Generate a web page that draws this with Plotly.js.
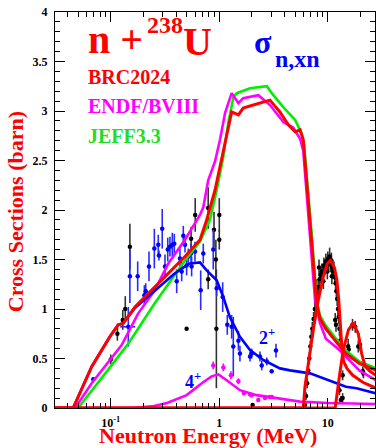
<!DOCTYPE html>
<html>
<head>
<meta charset="utf-8">
<script src="https://cdn.plot.ly/plotly-3.0.1.min.js"></script>
<style>
  html, body { margin: 0; padding: 0; background: #fff; }
  #plot { width: 376px; height: 448px; }
</style>
</head>
<body>
<div id="plot"></div>
<script>
// n + 238U neutron-induced cross sections (barn) versus neutron energy (MeV)

// Total inelastic (n,n') evaluations
const brcE   = [0.03, 0.045, 0.0667, 0.098, 0.117, 0.130, 0.167, 0.255, 0.483, 0.665, 0.765, 0.913, 1.015, 1.17, 1.30, 1.50, 1.66, 2.06, 2.93, 3.62, 4.33, 5.0, 5.55, 5.94, 7.10, 7.9, 8.5, 9.6, 11.9, 14.7, 19.5, 27.8];
const brcS   = [0, 0, 0.417, 0.72, 0.84, 0.855, 1.02, 1.225, 1.53, 1.70, 1.90, 2.20, 2.44, 2.74, 2.99, 2.96, 3.03, 3.06, 3.11, 2.99, 2.86, 2.79, 2.81, 2.71, 1.70, 1.05, 0.90, 0.80, 0.67, 0.55, 0.45, 0.38];

const endfE  = [0.03, 0.047, 0.0667, 0.126, 0.179, 0.255, 0.339, 0.483, 0.664, 0.713, 0.79, 0.913, 1.015, 1.13, 1.30, 1.50, 1.66, 2.29, 2.93, 3.89, 4.81, 5.55, 5.94, 7.10, 7.63, 8.46, 9.6, 12.8, 19.5, 27.8];
const endfS  = [0, 0, 0.25, 0.636, 0.956, 1.19, 1.46, 1.70, 1.95, 2.03, 2.30, 2.49, 2.71, 2.98, 3.18, 3.08, 3.13, 3.16, 3.06, 2.89, 2.83, 2.72, 2.60, 1.55, 1.09, 0.86, 0.70, 0.586, 0.38, 0.28];

const jeffE  = [0.03, 0.05, 0.089, 0.145, 0.255, 0.483, 0.664, 0.82, 0.946, 1.09, 1.21, 1.35, 1.45, 1.92, 2.74, 3.15, 3.89, 5.0, 5.74, 6.05, 7.15, 7.9, 8.5, 9.6, 11.9, 14.7, 19.5, 27.8];
const jeffS  = [0, 0, 0.35, 0.65, 1.06, 1.49, 1.68, 1.90, 2.20, 2.54, 2.88, 3.14, 3.18, 3.23, 3.25, 3.16, 3.04, 2.91, 2.77, 2.65, 1.72, 1.08, 0.93, 0.83, 0.70, 0.58, 0.47, 0.40];

// Level excitation: 2+ and 4+ states
const lev2E  = [0.03, 0.045, 0.0667, 0.098, 0.117, 0.130, 0.167, 0.238, 0.316, 0.39, 0.483, 0.537, 0.664, 0.765, 0.946, 1.09, 1.25, 1.55, 1.92, 2.54, 3.62, 4.49, 6.85, 10.4, 14.7, 18.4, 27.8];
const lev2S  = [0, 0, 0.417, 0.72, 0.84, 0.855, 1.01, 1.16, 1.28, 1.36, 1.43, 1.46, 1.47, 1.39, 1.29, 1.12, 0.92, 0.72, 0.586, 0.485, 0.40, 0.38, 0.35, 0.28, 0.215, 0.20, 0.148];

const lev4E  = [0.03, 0.16, 0.25, 0.33, 0.50, 0.60, 0.71, 0.85, 0.98, 1.17, 1.55, 2.21, 3.62, 5.55, 10.0, 27.8];
const lev4S  = [0, 0, 0.02, 0.05, 0.13, 0.20, 0.26, 0.32, 0.34, 0.28, 0.18, 0.13, 0.098, 0.064, 0.05, 0.04];

// (n,2n) and (n,3n)
const n2nE   = [0.03, 5.94, 6.16, 6.61, 7.35, 8.17, 9.09, 9.9, 10.6, 11.5, 12.1, 12.6, 13.0, 13.5, 14.0, 15.0, 17.0, 21.0, 27.8];
const n2nS   = [0, 0, 0.215, 0.45, 0.79, 1.09, 1.33, 1.46, 1.49, 1.42, 1.30, 1.10, 0.85, 0.60, 0.47, 0.40, 0.33, 0.26, 0.20];

const n3nE   = [0.03, 11.7, 12.9, 13.9, 15.5, 17.2, 19.1, 20.5, 22.1, 24.5, 27.8];
const n3nS   = [0, 0, 0.35, 0.59, 0.79, 0.86, 0.75, 0.55, 0.42, 0.37, 0.33];

// Measurements: total inelastic / (n,2n) / (n,3n)
const expE   = [0.100, 0.115, 0.129, 0.136, 0.150, 0.50, 0.55, 0.60, 0.79, 0.79, 0.894, 0.93, 0.94, 1.0, 1.0, 2.03,
                6.16, 6.3, 6.45, 6.6, 6.75, 6.9, 7.05, 7.2, 7.4, 7.6, 7.8, 7.9, 8.0, 8.2, 8.3, 8.4, 8.6, 8.8, 9.0, 9.1, 9.2, 9.4, 9.6, 9.8, 9.9, 10.0, 10.2, 10.4, 10.6, 10.8, 10.9, 11.0, 11.2, 11.4, 11.6, 11.7, 11.8, 12.0, 12.2, 12.4, 12.6, 12.8, 13.0,
                11.9, 12.8, 13.2, 13.7, 13.7, 15.4, 15.6, 16.9, 17.9, 19.1, 19.8, 21.0, 21.3];
const expS   = [0.49, 0.75, 0.89, 1.00, 1.63, 0.80, 1.71, 1.95, 2.02, 1.30, 1.80, 1.50, 0.80, 1.95, 1.70, 0.03,
                0.03, 0.12, 0.25, 0.38, 0.50, 0.62, 0.72, 0.80, 0.90, 1.00, 1.08, 1.22, 1.15, 1.22, 1.42, 1.30, 1.34, 1.38, 1.36, 1.28, 1.44, 1.42, 1.48, 1.45, 1.38, 1.50, 1.47, 1.53, 1.45, 1.49, 1.33, 1.42, 1.38, 1.40, 1.32, 0.89, 1.26, 1.18, 1.10, 1.00, 0.92, 0.80, 0.68,
                0.84, 0.18, 0.08, 0.33, 0.10, 0.62, 0.59, 0.84, 0.82, 0.62, 0.64, 0.37, 0.35];
const expErr = [0.05, 0.07, 0.10, 0.13, 0.23, 0.01, 0.12, 0.17, 0.21, 0.10, 0.18, 0.20, 0.60, 0.17, 0.10, 0.01,
                0.03, 0.04, 0.05, 0.05, 0.06, 0.06, 0.06, 0.07, 0.07, 0.07, 0.07, 0.08, 0.07, 0.08, 0.08, 0.08, 0.08, 0.08, 0.08, 0.08, 0.08, 0.08, 0.08, 0.08, 0.08, 0.08, 0.08, 0.09, 0.08, 0.08, 0.08, 0.08, 0.08, 0.08, 0.08, 0.07, 0.08, 0.08, 0.07, 0.07, 0.07, 0.07, 0.06,
                0.07, 0.05, 0.04, 0.05, 0.05, 0.08, 0.06, 0.06, 0.06, 0.06, 0.06, 0.05, 0.05];

// Measurements: 2+ level
const m2E    = [0.069, 0.150, 0.145, 0.177, 0.204, 0.21, 0.225, 0.252, 0.274, 0.278, 0.298, 0.316, 0.335, 0.351, 0.369, 0.385, 0.405, 0.434, 0.45, 0.466, 0.483, 0.50, 0.518, 0.549, 0.556, 0.597, 0.674, 0.712, 0.88, 0.946, 1.075, 1.185, 1.30, 1.346, 1.50, 1.55, 1.92, 1.99, 2.37, 2.46, 2.74, 3.04, 3.33];
const m2S    = [0.29, 1.33, 0.82, 1.33, 1.14, 1.18, 1.43, 1.61, 1.65, 1.54, 1.81, 1.43, 1.60, 1.63, 1.65, 1.66, 1.28, 1.51, 1.38, 1.74, 1.65, 1.44, 1.53, 1.56, 1.43, 1.58, 1.19, 1.56, 1.60, 1.21, 1.12, 0.84, 0.82, 0.62, 0.68, 0.55, 0.52, 0.55, 0.52, 0.43, 0.47, 0.37, 0.58];
const m2Err  = [0.02, 0.27, 0.20, 0.15, 0.10, 0.08, 0.15, 0.20, 0.10, 0.05, 0.20, 0.12, 0.12, 0.10, 0.12, 0.10, 0.12, 0.10, 0.10, 0.10, 0.08, 0.10, 0.08, 0.10, 0.10, 0.10, 0.20, 0.10, 0.20, 0.08, 0.15, 0.10, 0.12, 0.30, 0.10, 0.08, 0.05, 0.05, 0.05, 0.05, 0.04, 0.02, 0.07];
const m2ErrL = [0, 0, 0.023, 0, 0, 0, 0, 0, 0, 0.012, 0, 0, 0, 0, 0, 0, 0, 0, 0, 0, 0, 0, 0, 0, 0, 0, 0, 0, 0, 0, 0, 0, 0, 0, 0, 0, 0, 0, 0, 0, 0, 0, 0];
const m2ErrR = [0, 0, 0.023, 0, 0, 0, 0, 0, 0, 0.012, 0, 0, 0, 0, 0, 0, 0, 0, 0, 0, 0, 0, 0, 0, 0, 0, 0, 0, 0, 0, 0, 0, 0, 0, 0, 0, 0, 0, 0, 0, 0, 0, 0];

// Measurements: 4+ level
const m4E    = [0.88, 1.09, 1.28, 1.50, 1.69, 1.92, 1.98, 2.29, 2.64, 2.93, 3.05];
const m4S    = [0.43, 0.41, 0.33, 0.27, 0.15, 0.14, 0.13, 0.08, 0.10, 0.11, 0.11];
const m4Err  = [0.04, 0.04, 0.04, 0.03, 0.02, 0.01, 0.01, 0.01, 0.01, 0.01, 0.01];

// Axis ticks
const xTickVals  = [0.1, 1, 10];
const xTickText  = ['10<sup>-1</sup>', '1', '10'];
const xMinorVals = [0.04, 0.05, 0.06, 0.07, 0.08, 0.09, 0.2, 0.3, 0.4, 0.5, 0.6, 0.7, 0.8, 0.9, 2, 3, 4, 5, 6, 7, 8, 9, 20];

const RED = '#ff0000', MAG = '#ff00ff', GRN = '#00ee00', BLU = '#0000ff';
const SERIF = 'Liberation Serif, Times New Roman, serif';

function curve(x, y, color, w) {
  return { x: x, y: y, type: 'scatter', mode: 'lines', line: { color: color, width: w }, hoverinfo: 'skip' };
}
function points(x, y, err, color, barColor, extra) {
  const t = {
    x: x, y: y, type: 'scatter', mode: 'markers',
    marker: { color: color, size: 4.5 },
    error_y: { type: 'data', array: err, visible: true, color: barColor, thickness: 1.6, width: 0 },
    hoverinfo: 'skip'
  };
  return Object.assign(t, extra || {});
}

const traces = [
  points(expE, expS, expErr, '#000000', '#333333'),
  points(m2E, m2S, m2Err, BLU, '#2a2aff', {
    error_x: { type: 'data', symmetric: false, array: m2ErrR, arrayminus: m2ErrL, visible: true, color: '#2a2aff', thickness: 1.6, width: 0 }
  }),
  points(m4E, m4S, m4Err, MAG, MAG),
  curve(jeffE, jeffS, GRN, 2.6),
  curve(endfE, endfS, MAG, 2.6),
  curve(lev2E, lev2S, BLU, 2.6),
  curve(lev4E, lev4S, MAG, 2.6),
  curve(brcE, brcS, RED, 3),
  curve(n2nE, n2nS, RED, 3),
  curve(n3nE, n3nS, RED, 3)
];

function txt(text, x, y, size, color, extra) {
  return Object.assign({
    text: text, xref: 'paper', yref: 'paper', x: x, y: y,
    xanchor: 'left', yanchor: 'middle', showarrow: false,
    font: { family: SERIF, size: size, color: color, weight: 'bold' }
  }, extra || {});
}

const layout = {
  width: 376, height: 448,
  margin: { l: 55, r: 1, t: 12, b: 40, pad: 0 },
  paper_bgcolor: '#ffffff', plot_bgcolor: '#ffffff',
  showlegend: false,
  font: { family: SERIF, color: '#000' },
  xaxis: {
    type: 'log', range: [-1.514, 1.435],
    showgrid: false, zeroline: false,
    showline: true, linecolor: '#000', linewidth: 1, mirror: 'allticks',
    ticks: 'inside', ticklen: 10, tickcolor: '#000', tickwidth: 1,
    tickvals: xTickVals, ticktext: xTickText,
    tickfont: { family: SERIF, size: 12, color: '#000', weight: 'bold' },
    ticklabelstandoff: 4,
    minor: { tickvals: xMinorVals, ticks: 'inside', ticklen: 5, tickcolor: '#000', tickwidth: 1, showgrid: false }
  },
  yaxis: {
    range: [0, 4], dtick: 0.5, tick0: 0,
    showgrid: false, zeroline: false,
    showline: true, linecolor: '#000', linewidth: 1, mirror: 'allticks',
    ticks: 'inside', ticklen: 10, tickcolor: '#000', tickwidth: 1,
    tickfont: { family: SERIF, size: 12, color: '#000', weight: 'bold' },
    ticklabelstandoff: 4,
    minor: { dtick: 0.1, ticks: 'inside', ticklen: 5, tickcolor: '#000', tickwidth: 1, showgrid: false }
  },
  annotations: [
    txt('n +', 0.0969, 0.9306, 40, RED),
    txt('238', 0.2813, 0.9674, 24, RED),
    txt('U', 0.3938, 0.9255, 40, RED),
    txt('BRC2024', 0.0969, 0.837, 20, RED),
    txt('ENDF/BVIII', 0.0969, 0.762, 20, MAG),
    txt('JEFF3.3', 0.0969, 0.686, 20, '#22dd22'),
    txt('σ', 0.6156, 0.924, 32, BLU),
    txt('n,xn', 0.681, 0.8818, 24, BLU),
    txt('2<sup>+</sup>', 0.631, 0.1795, 18, BLU),
    txt('4<sup>+</sup>', 0.40, 0.0684, 18, BLU),
    txt('Neutron Energy (MeV)', 0.478, -0.0705, 22, RED, { xanchor: 'center' }),
    txt('Cross Sections (barn)', -0.123, 0.496, 22, RED, { xanchor: 'center', textangle: -90 })
  ]
};

Plotly.newPlot('plot', traces, layout, { staticPlot: true, displayModeBar: false });
</script>
</body>
</html>
